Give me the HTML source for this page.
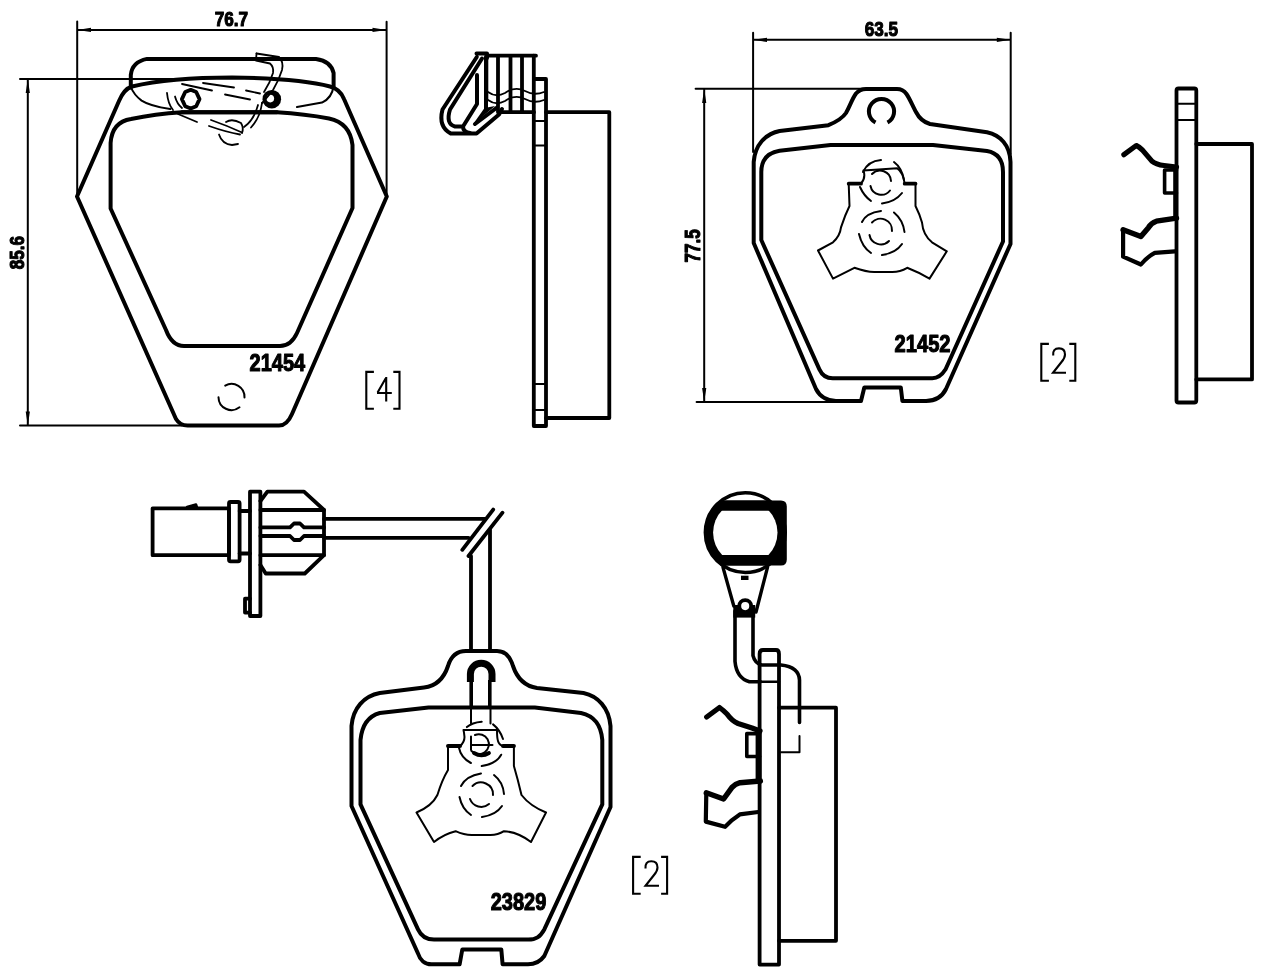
<!DOCTYPE html>
<html><head><meta charset="utf-8">
<style>
html,body{margin:0;padding:0;background:#fff;width:1265px;height:970px;overflow:hidden}
svg{display:block;filter:grayscale(1)}
.t{font-family:"Liberation Sans",sans-serif;font-weight:bold;fill:#000;stroke:#000;stroke-width:1.1}
</style></head>
<body>
<svg width="1265" height="970" viewBox="0 0 1265 970" fill="none" stroke="#000" stroke-linejoin="round" stroke-linecap="round">
<!-- ============ PAD 1 (top-left) ============ -->
<g id="p1">
  <!-- dimension lines -->
  <g stroke-width="2">
    <path d="M77.2,21.5 V196 M386.6,21.7 V196 M77.2,29.9 H386.6"/>
    <path d="M20,79 H182 M27.8,79 V425.6 M20,425.6 H182"/>
  </g>
  <g fill="#000" stroke="none">
    <path d="M77.2,29.9 L91,27.8 L91,32 Z"/>
    <path d="M386.6,29.9 L372.5,27.8 L372.5,32 Z"/>
    <path d="M27.8,79 L25.7,93 L29.9,93 Z"/>
    <path d="M27.8,425.6 L25.7,411.5 L29.9,411.5 Z"/>
  </g>
  <!-- outer pad -->
  <path stroke-width="4" d="M232,77.5 Q300,78.5 330,86.5 Q340,89 344,99 L386.8,196.5 L292,414 Q287,425.6 279,425.6 L187.6,425.6 Q180,425.6 176,419 L77,196.5 L119,101 Q124,89 132,86.5 Q170,77.5 232,77.5 Z"/>
  <!-- inner pad -->
  <path stroke-width="4" d="M182,112.3 L277,112.3 Q305,114 329,118.5 Q350,123 352.5,145 L352.5,208 L297,333 Q291,346 280,346 L184,346 Q172,346 166,330 L110.6,208.5 L110.6,143 Q112,122 131,119 Q155,114 182,112.3 Z"/>
  <path stroke-width="4" d="M182,112.3 L277,112.3"/>
  <!-- clip bar -->
  <path stroke-width="4" d="M130.8,87.5 V75 Q132,62 147,58.9 L316,58.9 Q331,61 333.6,73 V86.5"/>
  <path stroke-width="2" d="M130.8,87 Q134,95 141.6,100.6 Q150,106 170.2,109.1 M333.6,86 Q332,98 322,102.6 L297,107"/>
  <!-- nuts -->
  <polygon stroke-width="3.8" points="199.5,99.1 196.2,106.2 190.7,108.4 185.2,106.2 181.9,99.1 185.2,92 190.7,89.8 196.2,92"/>
  <circle cx="271.8" cy="99.2" r="9.3" fill="#000" stroke="none"/>
  <circle cx="270.3" cy="98.6" r="3.8" fill="#fff" stroke="none"/>
  <!-- wire scribbles -->
  <g stroke-width="1.8">
    <path d="M256.5,53.5 L279,57 Q284,62 282,70 Q279,80 273,90 Q266,99 262,103"/>
    <path d="M256.5,53.5 L256,60.5 L270,63.5 Q274,67 273,73 Q270,83 264,92"/>
    <path d="M182,84 L212,90.5 M203,83 L234,87.5 M225,94.5 L250,99.5 M246,90.5 L260,93.5 M178,114 L197,122"/>
    <path d="M167,93 Q168,104 173,110 M175,96.5 Q177,104 182,108"/>
    <path d="M211,120 Q228,126 242,132.5 M209,126 Q226,132 240,134.5 M219,134.5 Q222,144 232,145 L238,144"/>
    <path d="M258,105 Q254,120 244,127 M262,103 Q260,118 251,127.5"/>
    <path d="M226,122 Q232,118 241,123 Q244,128 242,133"/>
  </g>
  <!-- bottom circle -->
  <path stroke-width="2" d="M225.2,385.6 A13,13 0 0 1 244.5,397.5 M218.5,397.2 A13,13 0 0 0 239.5,407.3"/>
  <!-- labels -->
  <text class="t" x="0" y="0" font-size="20.61" transform="translate(214.65,26.10) scale(0.8344,1)">76.7</text>
  <text class="t" x="0" y="0" font-size="20.87" transform="translate(24.20,269.25) rotate(-90) scale(0.8188,1)">85.6</text>
  <text class="t" x="0" y="0" font-size="24.00" transform="translate(249.55,371.25) scale(0.8329,1)">21454</text>
</g>

<!-- ============ PAD 1 side view ============ -->
<g id="p1s">
  <path stroke-width="3.8" d="M533.8,55.7 V426 H546 V79 H535"/>
  <path stroke-width="3.8" d="M546,112.2 H609.3 V418 H546"/>
  <path stroke-width="2" d="M535,121 H545 M535,145.4 H545 M535,384 H545 M535,410 H545"/>
  <!-- spring box -->
  <path stroke-width="3.8" d="M486.4,55.7 H536 M486.4,55.7 V100 M498,57 V112.2 M510.5,57 V112.2 M522,57 V112.2 M499.7,112.2 H534"/>
  <path stroke-width="1.8" d="M488,92 Q496,98 505,93 Q515,86 525,91 Q534,96 544,92 M488,100 Q496,106 505,101 Q515,94 525,99 Q534,104 544,100"/>
  <!-- U clip -->
  <path stroke-width="4" d="M476.5,53.5 H487 V58 M476.8,57 L442.5,109.5 Q438,127 451,133.6 L476.5,133.6 L499,114.5 L502,109"/>
  <path stroke-width="4" d="M482,58.5 L450,109.5 Q445.5,124 455,126.5 L463,126.5 M477,75 V104 L463,126.5 Q463,132 470,133"/>
  <path stroke-width="4" d="M486,57 V110 M475,124 L497,107.5"/>
  <path stroke="none" fill="#000" d="M472.5,125 L484.5,108 L495,106 Z"/>
</g>
<!-- ============ PAD 2 (top-right) ============ -->
<g id="p2">
  <g stroke-width="2">
    <path d="M753.1,32.7 V152 M1010.7,32.7 V154 M753.1,39.8 H1010.7"/>
    <path d="M695.6,88.8 H862 M704.2,88.8 V401.9 M696.6,401.9 H836"/>
  </g>
  <g fill="#000" stroke="none">
    <path d="M753.1,39.8 L767,37.7 L767,41.9 Z"/>
    <path d="M1010.7,39.8 L996.8,37.7 L996.8,41.9 Z"/>
    <path d="M704.2,88.8 L702.1,103 L706.3,103 Z"/>
    <path d="M704.2,401.9 L702.1,388 L706.3,388 Z"/>
  </g>
  <path stroke-width="4" d="M828.4,125.2 C836,122 842,119 846,113 C850,106 852,99 856,93.5 C859,90 862,89 866,89 L897,89 C901,89 904,90.5 906.5,94 C910,99 913,107 916,112 C919,118 923,122 930,124 L987,132.3 C1000,135 1010,145 1010.5,162 L1010.5,244 L946,389 C942,397 936,400.9 926,400.9 L902.4,400.9 L900.8,387.6 L864.3,387.6 L861,400.9 L836,400.9 C828,400.9 820,397 816,389 L753.7,243 L753.7,162 C755,145 765,134 779.6,131 Z"/>
  <path stroke-width="4" d="M830.5,145 L933,145 L987,151 C998,153 1003,160 1003,172 L1003,241.5 L945.6,369.3 C942,375 938,378.3 932.3,378.3 L832.7,378.3 C826,378.3 822,375 819.4,369.3 L761.3,240 L761.3,172 C761.3,160 767,153 779.6,150.8 Z"/>
  <path stroke-width="4" stroke-linecap="butt" d="M875.5,122.6 A12.6,12.6 0 1 1 887.5,122.6"/>
  <!-- shim -->
  <path stroke-width="2" d="M863.5,170.5 L897.3,168.3 Q903,172 904.7,183.7 L915.5,183.7 L915.5,206 Q920,215 922,222.5 Q923,235 932,242.3 L946.8,251.3 L929.5,278.6 Q918,272 907.2,267.8 Q900,272 892.4,272 L874.2,272 Q866,272 854.4,267.8 L833,278.6 L818,250.5 L833,242.3 Q840,236 841,227.4 Q845,215 849.5,206 L848.7,183.7 L861,183.7 Q866,178 863.5,170.5 Z"/>
  <path stroke-width="3.8" d="M848.7,183.7 H861 M904.7,183.7 H915.5"/>
  <g stroke-width="2">
    <path d="M870.5,186 A11,11 0 0 0 890,190.5 M872,174 A11,11 0 0 1 891,181"/>
    <path d="M863,172 Q868,161 881,160 M894,162 Q902,168 904,180 M882,203.5 Q895,202 902,193 M871,201 Q864,196 860,187"/>
    <path d="M869.5,235 A11.5,11.5 0 0 0 889,241 M872,222.5 A11.5,11.5 0 0 1 892,231"/>
    <path d="M862,222 Q866,213 881,211 M894,212.5 Q903,220 904.5,232 M882,255 Q896,253 902,244 M871,253 Q862,247 859,234"/>
  </g>
  <text class="t" x="0" y="0" font-size="20.86" transform="translate(864.65,36.05) scale(0.8230,1)">63.5</text>
  <text class="t" x="0" y="0" font-size="21.60" transform="translate(700.35,262.40) rotate(-90) scale(0.7925,1)">77.5</text>
  <text class="t" x="0" y="0" font-size="23.60" transform="translate(894.55,352.00) scale(0.8537,1)">21452</text>
</g>
<!-- ============ PAD 2 side view ============ -->
<g id="p2s">
  <rect x="1176.5" y="88.5" width="19.8" height="314" rx="2" stroke-width="3.8"/>
  <path stroke-width="2" d="M1178,103.8 H1195 M1178,120 H1195"/>
  <path stroke-width="3.8" d="M1196.3,144 H1252 V379.4 H1196.3"/>
  <path stroke-width="5.2" d="M1123.9,154.7 L1136.3,145.5 Q1139,146.5 1142.5,150.1 L1151.7,160.9 Q1156,164.5 1164.1,165.5 L1176.5,167.1"/>
  <path stroke-width="3.6" d="M1176.5,170 H1164.6 V193 H1176.5"/>
  <path stroke-width="5" stroke-linecap="butt" d="M1175.7,166 V219"/>
  <path stroke-width="5.4" d="M1176.5,218.1 L1156.4,221.2 Q1151,223 1148.6,227.4 L1140.9,236.6 L1123.1,229.7"/>
  <path stroke-width="4.2" d="M1123.1,229.7 V256.7 L1140.9,264.5 Q1147,257 1154.8,252.9 L1174.9,251.3"/>
</g>

<!-- ============ SENSOR (bottom-left) ============ -->
<g id="sensor">
  <rect x="152.6" y="508.3" width="76.4" height="46.9" stroke-width="3.8"/>
  <path stroke-width="2.5" fill="#000" d="M187,507 L196,504.5 L197,507.5 Z"/>
  <rect x="229" y="502" width="10.6" height="59.3" rx="1.5" stroke-width="3.8"/>
  <path stroke-width="3.8" d="M239.6,511 H250 M239.6,553.5 H250"/>
  <path stroke-width="3.8" d="M250,491.7 H260.4 V616 H250 Z"/>
  <path stroke-width="3.8" d="M250,598.7 H245 V612.6 H250"/>
  <path stroke-width="3.8" d="M260.4,501 L267.4,491.7 L304,491.7 L324,510 L324,555.2 L304.8,573.5 L265.7,573.5 L260.4,565"/>
  <path stroke-width="3.8" d="M260.4,510 H324 M260.4,555.2 H324"/>
  <path stroke-width="3.8" d="M260.4,527.4 H290 L294,523.5 L300,523.5 L304,527.4 H324 M260.4,536 H290 L294,540 L300,540 L304,536 H324"/>
  <path stroke-width="3.8" d="M324,518.9 H485 M324,537.8 H468.5"/>
  <path stroke-width="3.8" d="M462.3,549.8 L493.2,509.6 M468.5,556 L502.5,512.7"/>
  <path stroke-width="3.8" d="M471,556 V649.8 M490,530 V649.8"/>
</g>
<!-- ============ PAD 3 (bottom) ============ -->
<g id="p3">
  <path stroke-width="4" d="M466,651 L497,651 C505,651 510,656 513,666 C517,678 524,686 537,688 L583.5,693 C598,696 609,708 610.5,726 L610.5,807 L544.3,956 C540,962 535,964.3 528,964.3 L502.6,964.3 L501.3,949.5 L462.3,949.5 L459.6,964.3 L431.4,964.3 C425,964.3 420,960 418,953.5 L351.5,806 L351.5,726 C353,708 364,696 379.8,693 L424,687.6 C437,686 444,678 448,666 C451,656 457,651 466,651 Z"/>
  <path stroke-width="4" d="M428.5,707.5 L534.8,707.5 L581,713 C594,716 601,724 602.3,740 L602.3,804.4 L544.3,929.4 C540,937 536,939.6 528.2,939.6 L434,939.6 C426,939.6 421,936 418,929.4 L360.5,804.4 L360.5,740 C362,724 369,716 379.8,713 Z"/>
  <path stroke-width="7" stroke-linecap="butt" d="M470.4,682 V674 A10.8,10.8 0 0 1 492,674 V682"/>
  <path stroke-width="3.6" stroke-linecap="butt" d="M471.2,680 V707.5 M489.8,680 V707.5"/>
  <path stroke-width="2" d="M471,707.5 V723.5 M490.5,707.5 V723.5"/>
  <!-- shim -->
  <path stroke-width="2" d="M463.5,730 L497,730 Q497,738 498,741 Q499,745 503.2,746 L513.9,746 L513.9,766 Q518,780 521.5,795 Q530,806 546,812.5 L531,842 Q518,832 504,831.2 Q498,835 490.5,835 L471.7,835 Q464,835 455.6,831.2 Q444,834 434,842 L416.5,812.5 Q432,806 437.4,795 Q442,780 448,770 L448,746 L460.2,746 Q464.5,742 464.5,737 Q464,732 463.5,730 Z"/>
  <path stroke-width="4" d="M448,746 H460 M503,746 H513.9"/>
  <path stroke-width="2" d="M471,736.5 V750 M471,745 H492.5 M475,735 A10,10 0 1 1 471.5,751"/>
  <path stroke-width="3.8" d="M474,753 Q481.5,757.5 489,753"/>
  <g stroke-width="2">
    <path d="M466.9,727.1 Q472,722.5 481.7,721.7 M493.1,724.4 Q500,730 503,739 M458.8,747.3 Q461,758 470.9,763 M481.7,766 Q496,764 501.2,754.7"/>
    <path d="M470,799 A12,12 0 0 0 489,804 M472.5,786 A12,12 0 0 1 493,795"/>
    <path d="M461,786 Q466,776 481,773.5 M494,775 Q503,782 504,794 M482,817 Q496,815 502,806 M471,815 Q462,809 459.5,797"/>
  </g>
  <text class="t" x="0" y="0" font-size="24.00" transform="translate(490.70,910.15) scale(0.8347,1)">23829</text>
</g>
<!-- ============ PAD 3 side view ============ -->
<g id="p3s">
  <defs>
    <clipPath id="band1"><rect x="690" y="500.5" width="110" height="64.9"/></clipPath>
    <clipPath id="band2"><rect x="690" y="510.8" width="110" height="44.3"/></clipPath>
  </defs>
  <circle cx="745.3" cy="532.6" r="39.9" stroke-width="3.6"/>
  <circle cx="745.3" cy="532.6" r="39" fill="#000" stroke="none" clip-path="url(#band1)"/>
  <path fill="#000" stroke="none" fill-rule="evenodd" d="M722,500.5 H781 Q786.8,500.5 786.8,506.5 V559.4 Q786.8,565.4 781,565.4 H720 Z M724,510.8 H778.5 V555.1 H724 Z"/>
  <circle cx="745.3" cy="532.6" r="32.2" fill="#fff" stroke="none" clip-path="url(#band2)"/>
  <path stroke-width="3.4" d="M723,567.4 L733.8,606 M767.5,567.4 L756,612"/>
  <rect x="741" y="575.7" width="7.5" height="4.3" fill="#000" stroke="none"/>
  <rect x="733.3" y="605" width="21.9" height="12.6" fill="#000" stroke="none"/>
  <circle cx="745.2" cy="606.1" r="6" fill="#fff" stroke-width="3.9"/>
  <path stroke-width="3.6" d="M735,611 V661.3 Q736.5,678 749.4,681.7 H760.5 M753,611 V655.7 Q755,664 762,665 H781 Q799,667 799.5,680 V722.5"/>
  <path stroke-width="2" d="M799.5,736 V752.2 H781"/>
  <path stroke-width="2.5" d="M760,681.7 H779"/>
  <path stroke-width="3.8" d="M759.6,654 Q759.6,650 763,650 H776 Q779,650 779,654 V964.6 H759.6 Z"/>
  <path stroke-width="3.8" d="M779,707.7 H836 V940.8 H779"/>
  <path stroke-width="5.2" d="M706.7,717 L719.5,707.5 Q723,710 727,714 Q732,721 738,723.5 L752,728 L760,731"/>
  <path stroke-width="6" stroke-linecap="butt" d="M758.6,731 V783"/>
  <path stroke-width="3.6" d="M759.6,733.6 H746.8 V756.5 H759.6"/>
  <path stroke-width="5.4" d="M760.4,781 L740,782.7 Q735,784 732,787.4 L723.6,799 L706.3,792.8"/>
  <path stroke-width="4.2" d="M706.3,792.8 L705.8,821.6 L725,826.8 Q731,820 739.8,814.4 L758.2,812"/>
</g>
<!-- ============ bracket labels ============ -->
<g stroke-width="2.1" stroke-linecap="butt" stroke-linejoin="miter">
  <path d="M373.9,371.9 H366.3 V408.7 H373.9 M393.3,371.9 H399.5 V408.7 H393.3"/>
  <path d="M386.2,377 V401.4 M386.2,377.5 L377.6,392.6 M377,393 H391.8"/>
  <path d="M1048.9,343.9 H1041.3 V380.7 H1048.9 M1069.3,343.9 H1075.3 V380.7 H1069.3"/>
  <path d="M1053.2,355.5 Q1052.5,348.4 1059,348.4 Q1065,348.4 1065,354.5 Q1065,358 1061.5,362 L1053,372.8 H1066"/>
  <path d="M640.7,856.9 H633.1 V893.7 H640.7 M661.1,856.9 H667.1 V893.7 H661.1"/>
  <path d="M645.5,868.5 Q644.8,861.3 651.3,861.3 Q657.5,861.3 657.5,867.5 Q657.5,871 654,875 L645.5,885.8 H659"/>
</g>
</svg>
</body></html>
